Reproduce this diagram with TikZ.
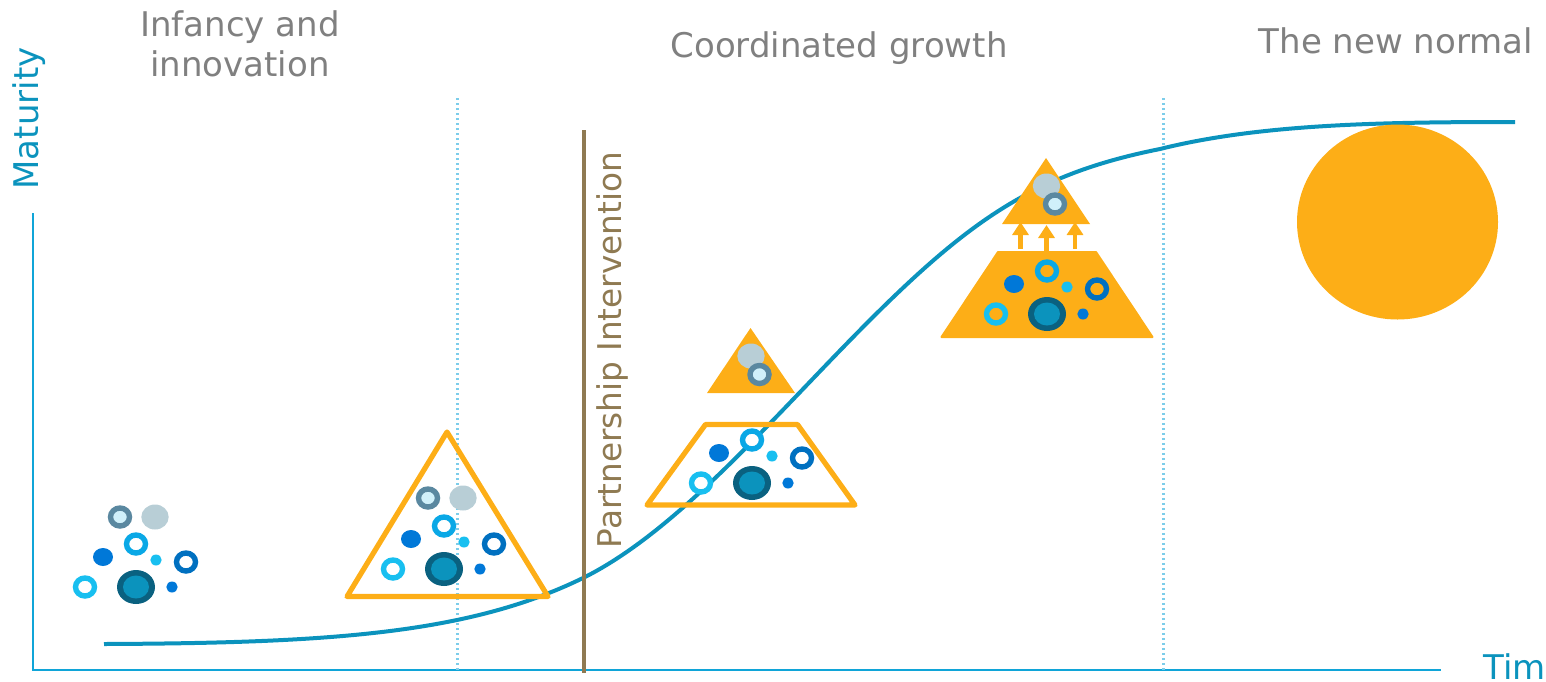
\documentclass[tikz,border=0pt]{standalone}
\usepackage{fontspec}
\usetikzlibrary{arrows.meta}
\setmainfont{DejaVu Sans}
\definecolor{curveblue}{HTML}{0B93BD}
\definecolor{axisblue}{HTML}{10A5D8}
\definecolor{amber}{HTML}{FDAE17}
\definecolor{bronze}{HTML}{8F7A52}
\definecolor{headgray}{HTML}{808080}
\definecolor{deepteal}{HTML}{0A6180}
\definecolor{skyring}{HTML}{18BFF0}
\definecolor{midring}{HTML}{0AA8E6}
\definecolor{navyring}{HTML}{0070C0}
\definecolor{dotblue}{HTML}{0078D8}
\definecolor{slatering}{HTML}{5A88A0}
\definecolor{paleblob}{HTML}{B8CED6}
\definecolor{palefill}{HTML}{D0F0FA}
\begin{document}
\begin{tikzpicture}[
    x=0.5pt, y=-0.5pt,
    heading/.style={font=\fontsize{17}{20.3}\selectfont, text=headgray, align=center},
    axislabel/.style={font=\fontsize{17}{20}\selectfont, text=curveblue},
    axisline/.style={draw=axisblue, line width=1pt},
    phase/.style={draw=axisblue!55, line width=1.5pt, dash pattern=on 0.9pt off 1.6pt},
    outline/.style={draw=amber, line width=2.6pt, line join=round},
    solidpart/.style={fill=amber, draw=amber, line width=1pt, line join=round},
    uparrow/.style={draw=amber, line width=2.2pt, -{Triangle[width=8pt,length=6.5pt]}},
    ringmark/.style={line width=2.7pt},
    pics/cluster/.style={code={
        \draw[ringmark, draw=skyring, fill=#1] (-51,0) ellipse [x radius=9.5, y radius=9];
        \draw[ringmark, draw=midring, fill=#1] (0,-43) ellipse [x radius=9.5, y radius=9];
        \draw[ringmark, draw=navyring, fill=#1] (50,-25) ellipse [x radius=9.5, y radius=9];
        \fill[dotblue] (-33,-30) ellipse [x radius=10, y radius=9];
        \fill[skyring] (20,-27) ellipse [x radius=5.7, y radius=5.5];
        \fill[dotblue] (36,0) ellipse [x radius=5.7, y radius=5.5];
        \fill[deepteal] (0,0) ellipse [x radius=19, y radius=17];
        \fill[curveblue] (0,0) ellipse [x radius=13, y radius=11.5];
    }},
    pics/grayring/.style={code={
        \draw[ringmark, draw=slatering, fill=palefill] (0,0) ellipse [x radius=9.5, y radius=9];
    }},
    pics/grayblob/.style={code={
        \fill[paleblob] (0,0) ellipse [x radius=13.7, y radius=12.5];
    }}
]
\useasboundingbox (0,0) rectangle (1546,681);

% Axes and phase lines
\coordinate (origin) at (33,670);
\coordinate (ytop) at (33,213);
\coordinate (xend) at (1441,670);
\draw[axisline] (ytop) -- (origin) -- (xend);
\draw[phase] (457,98) -- (457,670);
\draw[phase] (1163,98) -- (1163,670);

% Maturity curve
\draw[curveblue, line width=2pt] (104,644)
    .. controls (330,643) and (470,634) .. (585,577)
    .. controls (680,529) and (775,415) .. (870,320)
    .. controls (975,215) and (1040,173) .. (1160,149)
    .. controls (1260,124) and (1380,122) .. (1515,122);

% Partnership line
\coordinate (partner_top) at (584,130);
\coordinate (partner_end) at (584,673);
\draw[bronze, line width=2pt] (partner_top) -- (partner_end);
\node[rotate=90, font=\fontsize{16.35}{19}\selectfont, text=bronze] (partner) at (612.5,350) {Partnership Intervention};

% Headings
\node[heading] (infancy) at (240,44) {Infancy and\\innovation};
\node[heading] (growth) at (839,48) {Coordinated growth};
\node[heading] (normal) at (1396,41) {The new normal};

% Axis labels
\node[axislabel, rotate=90] (maturity) at (29,118.5) {Maturity};
\node[axislabel, anchor=base west, inner sep=0pt] (timelabel) at (1483,679) {Tim};

% Loose cluster
\pic at (136,587) {cluster=white};
\pic at (120,517) {grayring};
\pic at (155,517) {grayblob};

% Outlined triangle
\draw[outline] (447,432) -- (548,596.5) -- (347,596.5) -- cycle;
\pic at (444,569) {cluster=white};
\pic at (428,498) {grayring};
\pic at (463,498) {grayblob};

% Trapezoid with small top
\draw[outline] (705.5,424.5) -- (797.5,424.5) -- (855,505) -- (647,505) -- cycle;
\pic at (752,483) {cluster=white};
\fill[amber] (750.5,328) -- (795,393) -- (707,393) -- cycle;
\pic at (751,356) {grayblob};
\pic at (759.5,374.5) {grayring};

% Solid pyramid
\draw[solidpart] (998,252) -- (1096,252) -- (1152.5,337) -- (941.5,337) -- cycle;
\pic at (1047,314) {cluster=amber};
\fill[amber] (1046,158) -- (1090,224) -- (1002,224) -- cycle;
\pic at (1046.5,186) {grayblob};
\pic at (1055,204) {grayring};

% Arrows to the top
\coordinate (lift_a) at (1020.5,249);
\coordinate (lift_at) at (1020.5,222);
\coordinate (lift_b) at (1046.5,251);
\coordinate (lift_bt) at (1046.5,225);
\coordinate (lift_c) at (1075,249);
\coordinate (lift_ct) at (1075,222);
\draw[uparrow] (lift_a) -- (lift_at);
\draw[uparrow] (lift_b) -- (lift_bt);
\draw[uparrow] (lift_c) -- (lift_ct);

% Finished state
\fill[amber] (1397.5,222) ellipse [x radius=100.5, y radius=97.5];
\end{tikzpicture}
\end{document}
